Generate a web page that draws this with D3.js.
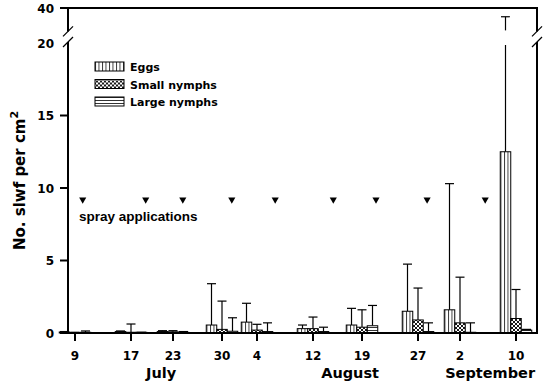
<!doctype html>
<html lang="">
    <head>
        <meta charset="utf-8">
        <title>slwf</title>
        <script src="https://d3js.org/d3.v7.min.js"></script>
        <style>
            body { margin: 0; background: #fff; }
            text { font-family: 'DejaVu Sans', Verdana, sans-serif; font-weight: bold; }
        </style>
    </head>
    <body>
        <div id="chart"></div>
    </body>
    <script type="text/javascript">

     // sampling dates, as days after July 9
     const sampleDays = [0, 8, 14, 21, 26, 34, 41, 49, 55, 63]
     const dayLabels = ['9', '17', '23', '30', '4', '12', '19', '27', '2', '10']
     const months = [{ name: 'July', day: 12.3 }, { name: 'August', day: 39.3 }, { name: 'September', day: 59.3 }]

     const series = ['Eggs', 'Small nymphs', 'Large nymphs']
     const eggs = [0.07, 0.1, 0.1, 0.55, 0.75, 0.3, 0.55, 1.5, 1.6, 12.5]
     const eggsSE = [0.03, 0.04, 0.06, 2.85, 1.3, 0.25, 1.15, 3.25, 8.7, 22.5]
     const small = [0.03, 0.05, 0.08, 0.25, 0.2, 0.3, 0.4, 0.9, 0.7, 1.0]
     const smallSE = [0.02, 0.57, 0.08, 1.95, 0.4, 0.8, 1.2, 2.2, 3.15, 2.0]
     const large = [0.05, 0.05, 0.05, 0.12, 0.1, 0.1, 0.5, 0.1, 0.05, 0.2]
     const largeSE = [0.09, 0.0, 0.05, 0.93, 0.6, 0.3, 1.4, 0.6, 0.65, 0.05]

     const sprayDays = [1.1, 10.1, 15.4, 22.4, 28.6, 36.9, 43, 50.3, 58.6]
     const sprayLevel = 9.2

     const yTicks = [0, 5, 10, 15, 20, 40]

     const W = 543, H = 389
     const mLeft = 68, mRight = 537, mTop = 8, mBottom = 333

     const svg = d3.select('#chart').append('svg')
                   .attr('width', W).attr('height', H)

     const x = d3.scaleLinear().domain([-1, 66]).range([mLeft, mRight])
     // broken axis: 0-20 linear, 20-40 squeezed into the top
     const y = d3.scaleLinear().domain([0, 20, 40]).range([mBottom, 43, mTop])
     const breakLo = 20, breakHi = 27.2

     const barW = 10.5
     const offset = d3.scaleBand().domain(series).range([-1.5 * barW, 1.5 * barW])

     // fill patterns
     const defs = svg.append('defs')
     const pv = defs.append('pattern').attr('id', 'p-eggs').attr('patternUnits', 'userSpaceOnUse')
                    .attr('width', 3.5).attr('height', 4)
     pv.append('rect').attr('width', 3.5).attr('height', 4).attr('fill', '#fff')
     pv.append('line').attr('x1', 0.5).attr('x2', 0.5).attr('y1', 0).attr('y2', 4)
       .attr('stroke', '#000').attr('stroke-width', 0.8)

     const pc = defs.append('pattern').attr('id', 'p-small').attr('patternUnits', 'userSpaceOnUse')
                    .attr('width', 4).attr('height', 4)
     pc.append('rect').attr('width', 4).attr('height', 4).attr('fill', '#fff')
     pc.append('path').attr('d', 'M0,0L4,4M4,0L0,4')
       .attr('stroke', '#000').attr('stroke-width', 0.9)

     const ph = defs.append('pattern').attr('id', 'p-large').attr('patternUnits', 'userSpaceOnUse')
                    .attr('width', 4).attr('height', 3)
     ph.append('rect').attr('width', 4).attr('height', 3).attr('fill', '#fff')
     ph.append('line').attr('x1', 0).attr('x2', 4).attr('y1', 0.5).attr('y2', 0.5)
       .attr('stroke', '#000').attr('stroke-width', 0.8)

     const fills = { 'Eggs': 'url(#p-eggs)', 'Small nymphs': 'url(#p-small)', 'Large nymphs': 'url(#p-large)' }

     const rows = []
     sampleDays.forEach((d, i) => {
         rows.push({ s: 'Eggs', day: d, v: eggs[i], se: eggsSE[i] })
         rows.push({ s: 'Small nymphs', day: d, v: small[i], se: smallSE[i] })
         rows.push({ s: 'Large nymphs', day: d, v: large[i], se: largeSE[i] })
     })

     // error bars (drawn first so bars sit on top)
     const err = svg.append('g').attr('stroke', '#000').attr('stroke-width', 1.2)
     rows.forEach(r => {
         const cx = x(r.day) + offset(r.s) + barW / 2
         const yt = y(r.v + r.se)
         if (r.v + r.se > breakHi) {
             err.append('line').attr('x1', cx).attr('x2', cx).attr('y1', y(r.v)).attr('y2', y(breakLo) + 2)
             err.append('line').attr('x1', cx).attr('x2', cx).attr('y1', y(breakHi)).attr('y2', yt)
         } else {
             err.append('line').attr('x1', cx).attr('x2', cx).attr('y1', y(r.v)).attr('y2', yt)
         }
         err.append('line').attr('x1', cx - 4.5).attr('x2', cx + 4.5).attr('y1', yt).attr('y2', yt)
     })

     svg.append('g').selectAll('rect')
        .data(rows)
        .join('rect')
        .attr('x', d => x(d.day) + offset(d.s))
        .attr('y', d => y(d.v))
        .attr('width', barW)
        .attr('height', d => y(0) - y(d.v))
        .attr('fill', d => fills[d.s])
        .attr('stroke', '#000')
        .attr('stroke-width', 1)

     // frame with axis breaks
     const frame = svg.append('g').attr('stroke', '#000').attr('stroke-width', 2).attr('fill', 'none')
     const gapTop = y(breakHi) + 1, gapBot = y(breakLo) - 1
     frame.append('path').attr('d', `M${mLeft},${mBottom}V${gapBot}M${mLeft},${gapTop}V${mTop}H${mRight}V${gapTop}M${mRight},${gapBot}V${mBottom}H${mLeft}`)
     ;[mLeft, mRight].forEach(ax => {
         ;[gapTop, gapBot].forEach(gy => {
             svg.append('line').attr('x1', ax - 5).attr('x2', ax + 5)
                .attr('y1', gy + 5).attr('y2', gy - 5)
                .attr('stroke', '#000').attr('stroke-width', 1.2)
         })
     })

     // y axis ticks
     const yAxis = svg.append('g')
     yAxis.selectAll('line').data(yTicks.filter(t => t !== 20)).join('line')
          .attr('x1', mLeft - 8).attr('x2', mLeft).attr('y1', d => y(d)).attr('y2', d => y(d))
          .attr('stroke', '#000').attr('stroke-width', 2)
     yAxis.selectAll('text').data(yTicks).join('text')
          .attr('x', mLeft - 14).attr('y', d => y(d) + 4.5)
          .attr('text-anchor', 'end').attr('font-size', 12)
          .text(d => d)

     // x axis ticks
     const xAxis = svg.append('g')
     xAxis.selectAll('line').data(sampleDays).join('line')
          .attr('x1', d => x(d)).attr('x2', d => x(d)).attr('y1', mBottom).attr('y2', mBottom + 8)
          .attr('stroke', '#000').attr('stroke-width', 2)
     xAxis.selectAll('text.day').data(sampleDays).join('text').attr('class', 'day')
          .attr('x', d => x(d)).attr('y', 360)
          .attr('text-anchor', 'middle').attr('font-size', 12)
          .text((d, i) => dayLabels[i])
     xAxis.selectAll('text.month').data(months).join('text').attr('class', 'month')
          .attr('x', d => x(d.day)).attr('y', 378)
          .attr('text-anchor', 'middle').attr('font-size', 14.5)
          .text(d => d.name)

     // y label
     const yl = svg.append('text')
                   .attr('transform', `translate(25,${(mTop + mBottom) / 2 + 10}) rotate(-90)`)
                   .attr('text-anchor', 'middle').attr('font-size', 15)
     yl.append('tspan').text('No. slwf per cm')
     yl.append('tspan').attr('dy', -7).attr('font-size', 11).text('2')

     // spray applications
     svg.append('g').selectAll('path').data(sprayDays).join('path')
        .attr('d', d3.symbol(d3.symbolTriangle, 22))
        .attr('transform', d => `translate(${x(d)},${y(sprayLevel)}) rotate(180)`)
        .attr('fill', '#000')
     svg.append('text').attr('x', 79).attr('y', 221)
        .style('font-family', "'Liberation Sans', Arial, sans-serif")
        .attr('font-size', 13.5)
        .text('spray applications')

     // legend
     const lg = svg.append('g').selectAll('g').data(series).join('g')
                   .attr('transform', (d, i) => `translate(95,${62 + i * 17.5})`)
     lg.append('rect').attr('width', 29).attr('height', 9)
       .attr('fill', d => fills[d]).attr('stroke', '#000').attr('stroke-width', 1)
     lg.append('text').attr('x', 35).attr('y', 9).attr('font-size', 11).text(d => d)

    </script>
</html>
